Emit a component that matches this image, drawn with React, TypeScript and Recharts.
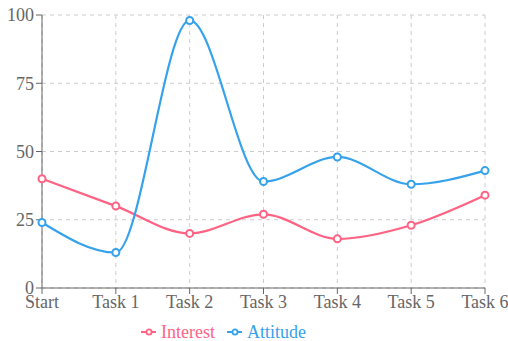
import { CartesianGrid, Legend, Line, LineChart, XAxis, YAxis } from "recharts";

const steps = ["Start", "Task 1", "Task 2", "Task 3", "Task 4", "Task 5", "Task 6"];
const interest = [40, 30, 20, 27, 18, 23, 34];
const attitude = [24, 13, 98, 39, 48, 38, 43];
const yTicks = [0, 25, 50, 75, 100];

const PINK = "rgb(255, 99, 132)";
const BLUE = "rgb(54, 162, 235)";
const FONT = "'Liberation Serif', 'Times New Roman', serif";

const rows = steps.map((step, i) => ({
  step,
  Interest: interest[i],
  Attitude: attitude[i],
}));

const series = [
  { key: "Interest", color: PINK },
  { key: "Attitude", color: BLUE },
];

function LegendRow() {
  return (
    <div
      style={{
        display: "flex",
        justifyContent: "flex-start",
        gap: 12,
        paddingLeft: 141,
        paddingTop: 4,
        fontFamily: FONT,
        fontSize: 18,
        lineHeight: "20px",
      }}
    >
      {series.map((s) => (
        <span key={s.key} style={{ display: "flex", alignItems: "center", color: s.color }}>
          <svg width={15} height={10} style={{ marginRight: 5 }}>
            <line x1={0} y1={5} x2={15} y2={5} stroke={s.color} strokeWidth={2} />
            <circle cx={8} cy={5} r={2.6} fill="#fff" stroke={s.color} strokeWidth={1.8} />
          </svg>
          {s.key}
        </span>
      ))}
    </div>
  );
}

export default function App() {
  const tick = { fill: "#666", fontSize: 18, fontFamily: FONT };
  return (
    <div style={{ position: "absolute", left: 0, top: 0, width: 508, height: 341, background: "#fff" }}>
      <LineChart width={508} height={341} data={rows} margin={{ top: 15, right: 23, left: 0, bottom: 0 }}>
        <CartesianGrid stroke="#ccc" strokeDasharray="4 4" />
        <XAxis
          dataKey="step"
          tick={tick}
          stroke="#666"
          tickSize={6}
          tickMargin={1}
          height={30}
          interval={0}
        />
        <YAxis
          domain={[0, 100]}
          ticks={yTicks}
          tick={tick}
          stroke="#666"
          tickSize={6}
          tickMargin={2}
          width={42}
        />
        <Legend verticalAlign="bottom" height={23} content={() => <LegendRow />} />
        {series.map((s) => (
          <Line
            key={s.key}
            type="monotone"
            dataKey={s.key}
            stroke={s.color}
            strokeWidth={2.2}
            dot={{ r: 3.5, fill: "#fff", stroke: s.color, strokeWidth: 2 }}
            activeDot={false}
            isAnimationActive={false}
          />
        ))}
      </LineChart>
    </div>
  );
}
